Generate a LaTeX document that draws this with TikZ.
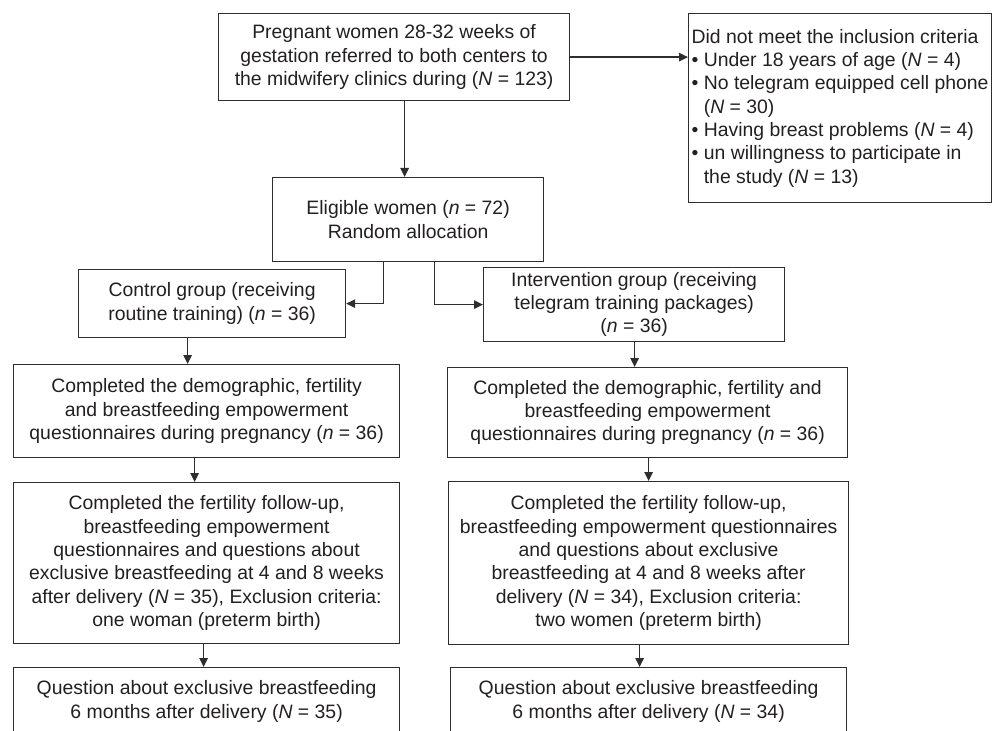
\documentclass[tikz,border=0pt]{standalone}
\usepackage{fontspec}
\setmainfont{Liberation Sans}
\usetikzlibrary{arrows.meta}
\definecolor{linec}{HTML}{2E2E2E}
\definecolor{textc}{HTML}{231F20}
\begin{document}
\begin{tikzpicture}[x=1pt,y=-1pt,
  box/.style={draw=linec, line width=1.2pt, inner sep=0pt, align=center,
    anchor=north west, text=textc, font=\fontsize{19.4}{23.3}\selectfont},
  arr/.style={draw=linec, line width=1.2pt, -{Triangle[length=9pt,width=8.5pt]}}]
\useasboundingbox (0,0) rectangle (992,730);

\node[box, minimum width=351pt, minimum height=87pt] (top) at (218,13)
  {Pregnant women 28-32 weeks of\\ gestation referred to both centers to\\ the midwifery clinics during (\textit{N} = 123)};

\node[box, align=left, minimum width=303pt, minimum height=189pt] (excl) at (688,13)
  {Did not meet the inclusion criteria\\
   \textbullet\ Under 18 years of age (\textit{N} = 4)\\
   \textbullet\ No telegram equipped cell phone\\
   \hphantom{\textbullet\ }(\textit{N} = 30)\\
   \textbullet\ Having breast problems (\textit{N} = 4)\\
   \textbullet\ un willingness to participate in\\
   \hphantom{\textbullet\ }the study (\textit{N} = 13)};

\node[box, minimum width=271pt, minimum height=84pt] (elig) at (272,177)
  {Eligible women (\textit{n} = 72)\\ Random allocation};

\node[box, minimum width=267pt, minimum height=68pt] (ctrl) at (78,269)
  {Control group (receiving\\ routine training) (\textit{n} = 36)};

\node[box, minimum width=301pt, minimum height=74pt] (intv) at (483,267)
  {Intervention group (receiving\\ telegram training packages)\\ (\textit{n} = 36)};

\node[box, minimum width=386pt, minimum height=93pt] (c1) at (13,364)
  {Completed the demographic, fertility\\ and breastfeeding empowerment\\ questionnaires during pregnancy (\textit{n} = 36)};

\node[box, minimum width=400pt, minimum height=90pt] (i1) at (447,367)
  {Completed the demographic, fertility and\\ breastfeeding empowerment\\ questionnaires during pregnancy (\textit{n} = 36)};

\node[box, minimum width=386pt, minimum height=161pt] (c2) at (13,482)
  {Completed the fertility follow-up,\\ breastfeeding empowerment\\ questionnaires and questions about\\ exclusive breastfeeding at 4 and 8 weeks\\ after delivery (\textit{N} = 35), Exclusion criteria:\\ one woman (preterm birth)};

\node[box, minimum width=400pt, minimum height=163pt] (i2) at (448,481)
  {Completed the fertility follow-up,\\ breastfeeding empowerment questionnaires\\ and questions about exclusive\\ breastfeeding at 4 and 8 weeks after\\ delivery (\textit{N} = 34), Exclusion criteria:\\ two women (preterm birth)};

\node[box, minimum width=386pt, minimum height=68pt] (c3) at (13,667)
  {Question about exclusive breastfeeding\\ 6 months after delivery (\textit{N} = 35)};

\node[box, minimum width=396pt, minimum height=68pt] (i3) at (450,667)
  {Question about exclusive breastfeeding\\ 6 months after delivery (\textit{N} = 34)};

% connectors
\draw[arr] (top.east) -- (top.east -| excl.west);
\draw[arr] ([xshift=10.5pt]top.south) -- ([xshift=10.5pt]top.south |- elig.north);
\draw[arr] ([xshift=-24.5pt]elig.south) |- (ctrl.east);
\draw[arr] ([xshift=26.5pt]elig.south) |- (intv.west);
\draw[arr] ([xshift=-24.5pt]ctrl.south) -- ([xshift=-24.5pt]ctrl.south |- c1.north);
\draw[arr] ([xshift=0.5pt]intv.south) -- ([xshift=0.5pt]intv.south |- i1.north);
\draw[arr] ([xshift=-12pt]c1.south) -- ([xshift=-12pt]c1.south |- c2.north);
\draw[arr] (i1.south -| i2.north) -- (i2.north);
\draw[arr] ([xshift=-3pt]c2.south) -- ([xshift=-3pt]c2.south |- c3.north);
\draw[arr] ([xshift=-9pt]i2.south) -- ([xshift=-9pt]i2.south |- i3.north);
\end{tikzpicture}
\end{document}
